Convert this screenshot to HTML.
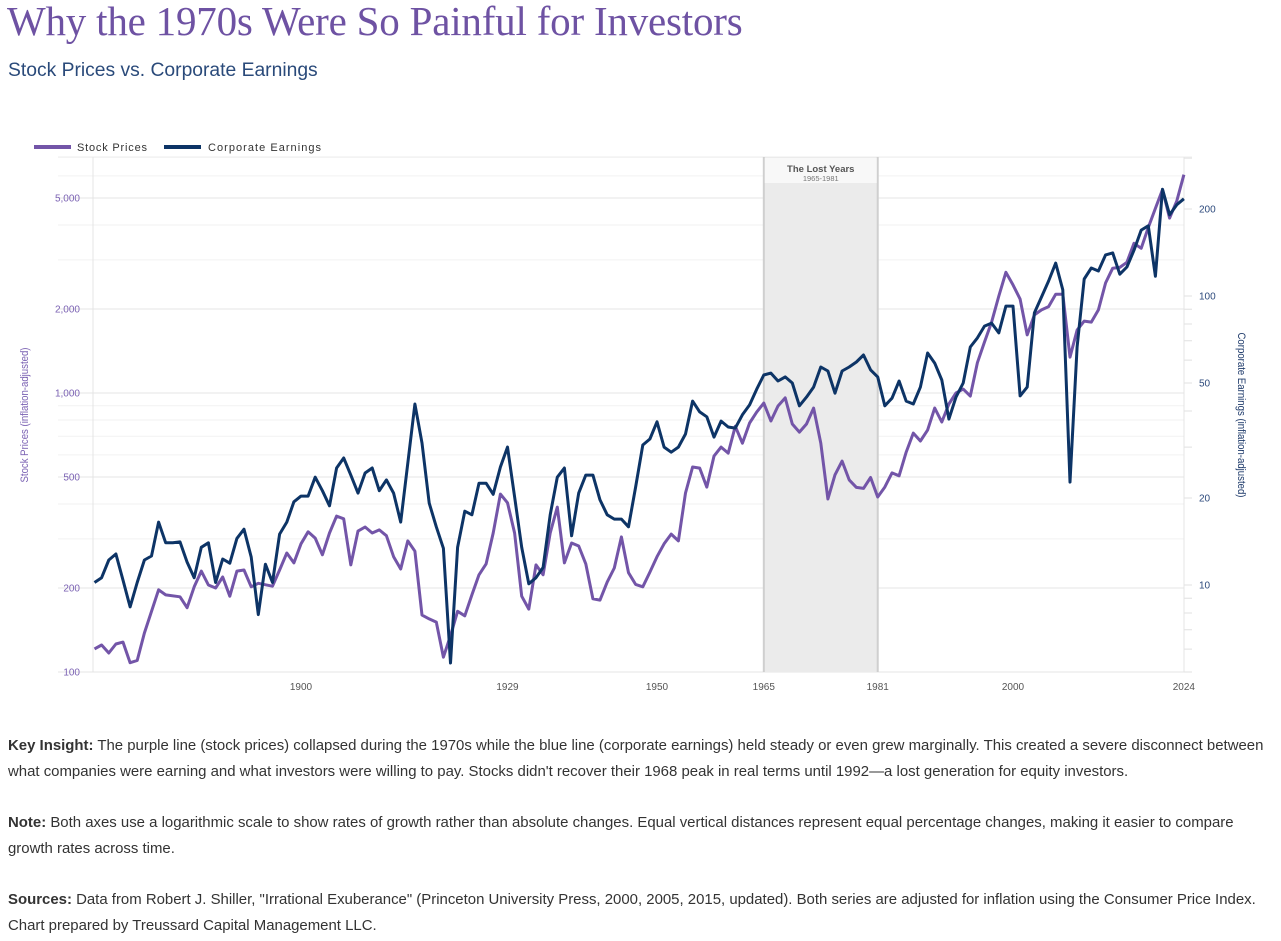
<!DOCTYPE html>
<html><head><meta charset="utf-8">
<style>
html,body{margin:0;padding:0;background:#fff;width:1281px;height:941px;overflow:hidden;font-family:"Liberation Sans",sans-serif;}
#title{position:absolute;left:7px;top:-3px;font-family:"Liberation Serif",serif;font-size:41px;color:#6e52a3;white-space:nowrap;letter-spacing:-0.2px;}
#subtitle{position:absolute;left:8px;top:60px;font-size:19.3px;color:#2a4a7a;white-space:nowrap;}
.para{position:absolute;left:8px;font-size:14.95px;line-height:26px;color:#333;white-space:nowrap;}
svg{position:absolute;left:0;top:0;}
</style></head><body>
<div id="title">Why the 1970s Were So Painful for Investors</div>
<div id="subtitle">Stock Prices vs. Corporate Earnings</div>
<svg id="chart" width="1281" height="700"></svg>
<div class="para" style="top:733px"><b>Key Insight:</b> The purple line (stock prices) collapsed during the 1970s while the blue line (corporate earnings) held steady or even grew marginally. This created a severe disconnect between<br>what companies were earning and what investors were willing to pay. Stocks didn't recover their 1968 peak in real terms until 1992—a lost generation for equity investors.</div>
<div class="para" style="top:810px"><b>Note:</b> Both axes use a logarithmic scale to show rates of growth rather than absolute changes. Equal vertical distances represent equal percentage changes, making it easier to compare<br>growth rates across time.</div>
<div class="para" style="top:887px"><b>Sources:</b> Data from Robert J. Shiller, "Irrational Exuberance" (Princeton University Press, 2000, 2005, 2015, updated). Both series are adjusted for inflation using the Consumer Price Index.<br>Chart prepared by Treussard Capital Management LLC.</div>
<script>
const stockYears=[1871,1872,1873,1874,1875,1876,1877,1878,1880,1881,1883,1884,1885,1886,1887,1888,1889,1890,1891,1892,1893,1894,1896,1897,1898,1899,1900,1901,1902,1903,1904,1905,1906,1907,1908,1909,1910,1911,1912,1913,1914,1915,1916,1917,1918,1919,1920,1921,1922,1923,1924,1925,1926,1927,1928,1929,1930,1931,1932,1933,1934,1935,1936,1937,1938,1939,1940,1941,1942,1943,1944,1945,1946,1947,1948,1949,1950,1951,1952,1953,1954,1955,1956,1957,1958,1959,1960,1961,1962,1963,1964,1965,1966,1967,1968,1969,1970,1971,1972,1973,1974,1975,1976,1977,1978,1979,1980,1981,1982,1983,1984,1985,1986,1987,1988,1989,1990,1991,1992,1993,1994,1995,1996,1997,1998,1999,2000,2001,2002,2003,2004,2005,2006,2007,2008,2009,2010,2011,2012,2013,2014,2015,2016,2017,2018,2019,2020,2021,2022,2023,2024];
const stockValues=[121,125,117,126,128,108,110,138,197,189,186,170,202,230,205,200,219,187,230,232,202,208,203,232,267,246,288,318,302,263,315,362,354,242,320,331,315,323,308,259,234,295,271,160,155,151,113,135,165,159,189,223,244,315,434,404,315,187,168,242,223,315,390,246,290,283,244,183,181,210,236,305,227,206,202,228,259,288,312,295,438,543,538,460,594,640,609,760,661,781,854,920,794,898,960,774,724,774,883,661,417,509,570,488,459,455,498,424,460,517,505,614,718,673,736,883,787,913,1000,1033,975,1284,1523,1795,2225,2707,2440,2170,1615,1905,1985,2040,2260,2260,1345,1680,1810,1795,1985,2480,2800,2820,2940,3440,3300,3920,4590,5360,4235,4880,6060];
const earnYears=[1871,1872,1873,1874,1875,1876,1877,1878,1879,1880,1881,1882,1883,1884,1885,1886,1887,1888,1889,1890,1891,1892,1893,1894,1895,1896,1897,1898,1899,1900,1901,1902,1903,1904,1905,1906,1907,1908,1909,1910,1911,1912,1913,1914,1915,1916,1917,1918,1919,1920,1921,1922,1923,1924,1925,1926,1927,1928,1929,1930,1931,1932,1933,1934,1935,1936,1937,1938,1939,1940,1941,1942,1943,1944,1945,1946,1947,1948,1949,1950,1951,1952,1953,1954,1955,1956,1957,1958,1959,1960,1961,1962,1963,1964,1965,1966,1967,1968,1969,1970,1971,1972,1973,1974,1975,1976,1977,1978,1979,1980,1981,1982,1983,1984,1985,1986,1987,1988,1989,1990,1991,1992,1993,1994,1995,1996,1997,1998,1999,2000,2001,2002,2003,2004,2005,2006,2007,2008,2009,2010,2011,2012,2013,2014,2015,2016,2017,2018,2019,2020,2021,2022,2023,2024];
const earnValues=[10.2,10.6,12.2,12.8,10.4,8.4,10.2,12.2,12.6,16.5,14.0,14.0,14.1,12.0,10.6,13.5,14.0,10.2,12.3,11.9,14.5,15.6,12.5,7.9,11.8,10.2,15.0,16.5,19.4,20.3,20.3,23.6,21.2,18.8,25.4,27.5,24.0,20.8,24.4,25.4,21.2,23.1,20.8,16.5,26.4,42.3,31.0,19.2,15.9,13.4,5.37,13.5,18.0,17.5,22.5,22.5,20.6,25.6,30.0,20.2,13.5,10.1,10.6,11.5,17.5,23.6,25.4,14.8,20.8,24.0,24.0,19.7,17.5,16.9,16.9,15.9,21.8,30.5,32.0,36.7,30.0,28.8,30.0,33.3,43.3,39.7,38.2,32.5,36.9,35.2,34.9,38.8,42.0,47.6,53.3,54.1,50.8,52.5,50.0,41.7,44.7,48.4,56.8,55.0,46.1,55.0,56.8,59.1,62.5,55.5,52.5,41.7,44.3,50.8,43.3,42.3,48.4,63.5,58.6,51.2,37.5,44.7,50.0,66.6,71.6,78.7,80.6,74.5,92.3,92.3,45.1,48.4,87.4,99.2,112.7,130,105,22.7,66.6,114.5,125,122,138.7,141,119,126,144,169,175,117,234,191,207,217];
const xTicks=[1900,1929,1950,1965,1981,2000,2024];
const leftTicks=[100,200,500,1000,2000,5000];
const leftTickLabels=["100","200","500","1,000","2,000","5,000"];
const rightTicks=[10,20,50,100,200];
const lostStart=1965, lostEnd=1981;

const svg=document.getElementById('chart');
const NS='http://www.w3.org/2000/svg';
const L=93,R=1184,T=157,B=672;
const x=yr=>301+(yr-1900)*7.12;
const yL=v=>672-279*Math.log10(v/100);
const yR=v=>585-289*Math.log10(v/10);
function mk(tag,attrs,parent){const e=document.createElementNS(NS,tag);for(const k in attrs)e.setAttribute(k,attrs[k]);(parent||svg).appendChild(e);return e;}

for(let d=100;d<=1000;d*=10){for(let m=1;m<10;m++){const v=d*m;const yy=yL(v);if(yy<T||yy>B)continue;
 const g=mk('line',{x1:L-35,x2:R,y1:yy,y2:yy,stroke:leftTicks.includes(v)?'#e6e6e6':'#f2f2f2','stroke-width':1});
 
 }}
for(let d=1;d<=100;d*=10){for(let m=1;m<10;m++){const v=d*m;const yy=yR(v);if(yy<T||yy>B)continue;
 const g=mk('line',{x1:R,x2:R+8,y1:yy,y2:yy,stroke:'#e0e0e0','stroke-width':1});
 
 }}
mk('line',{x1:L-35,x2:R+8,y1:T,y2:T,stroke:'#eee'});
const ax1=mk('line',{x1:L,x2:L,y1:T,y2:B,stroke:'#e4e4e4'});


const ax2=mk('line',{x1:R,x2:R,y1:T,y2:B,stroke:'#e4e4e4'});


const ax3=mk('line',{x1:L,x2:R,y1:B,y2:B,stroke:'#e4e4e4'});



const band=mk('rect',{x:x(lostStart),y:T,width:x(lostEnd)-x(lostStart),height:B-T,fill:'#ebebeb'});


const bl1=mk('line',{x1:x(lostStart),x2:x(lostStart),y1:T,y2:B,stroke:'#cfcfcf','stroke-width':2});


const bl2=mk('line',{x1:x(lostEnd),x2:x(lostEnd),y1:T,y2:B,stroke:'#cfcfcf','stroke-width':2});


const lb=mk('rect',{x:x(lostStart)+1,y:T+1,width:x(lostEnd)-x(lostStart)-2,height:25,fill:'#f8f8f8'});


const lt=mk('text',{x:(x(lostStart)+x(lostEnd))/2,y:T+15,'text-anchor':'middle','font-size':9.5,'font-weight':'bold',fill:'#555','font-family':'Liberation Sans'});
lt.textContent='The Lost Years';


const lt2=mk('text',{x:(x(lostStart)+x(lostEnd))/2,y:T+24,'text-anchor':'middle','font-size':7.5,fill:'#777','font-family':'Liberation Sans'});
lt2.textContent=lostStart+'-'+lostEnd;



leftTicks.forEach((v,i)=>{const t=mk('text',{x:80,y:yL(v)+3.5,'text-anchor':'end','font-size':10,fill:'#7b62b3','font-family':'Liberation Sans'});t.textContent=leftTickLabels[i];
 
 });
rightTicks.forEach(v=>{const t=mk('text',{x:1199,y:yR(v)+3.5,'font-size':10,fill:'#2d4a7c','font-family':'Liberation Sans'});t.textContent=String(v);
 
 });
xTicks.forEach(v=>{const t=mk('text',{x:x(v),y:690,'text-anchor':'middle','font-size':10,fill:'#555','font-family':'Liberation Sans'});t.textContent=String(v);
 
 });

const yt=mk('text',{transform:'translate(28,415) rotate(-90)','text-anchor':'middle','font-size':11,fill:'#7b62b3','font-family':'Liberation Sans Narrow, Liberation Sans','textLength':135,'lengthAdjust':'spacingAndGlyphs'});
yt.textContent='Stock Prices (inflation-adjusted)';


const yt2=mk('text',{transform:'translate(1238,415) rotate(90)','text-anchor':'middle','font-size':11,fill:'#1f3b6b','font-family':'Liberation Sans Narrow, Liberation Sans','textLength':165,'lengthAdjust':'spacingAndGlyphs'});
yt2.textContent='Corporate Earnings (inflation-adjusted)';



const sp=mk('path',{d:stockYears.map((yr,i)=>(i?'L':'M')+x(yr).toFixed(1)+','+yL(stockValues[i]).toFixed(1)).join(''),fill:'none',stroke:'#7355a8','stroke-width':3,'stroke-linejoin':'round'});


const ep=mk('path',{d:earnYears.map((yr,i)=>(i?'L':'M')+x(yr).toFixed(1)+','+yR(earnValues[i]).toFixed(1)).join(''),fill:'none',stroke:'#0d3466','stroke-width':3,'stroke-linejoin':'round'});



const l1=mk('line',{x1:34,x2:71,y1:147,y2:147,stroke:'#7355a8','stroke-width':4});


const l1t=mk('text',{x:77,y:151,'font-size':11,fill:'#333','font-family':'Liberation Sans','textLength':70,'lengthAdjust':'spacing'});l1t.textContent='Stock Prices';


const l2=mk('line',{x1:164,x2:201,y1:147,y2:147,stroke:'#0d3466','stroke-width':4});


const l2t=mk('text',{x:208,y:151,'font-size':11,fill:'#333','font-family':'Liberation Sans','textLength':113,'lengthAdjust':'spacing'});l2t.textContent='Corporate Earnings';


</script>
</body></html>
